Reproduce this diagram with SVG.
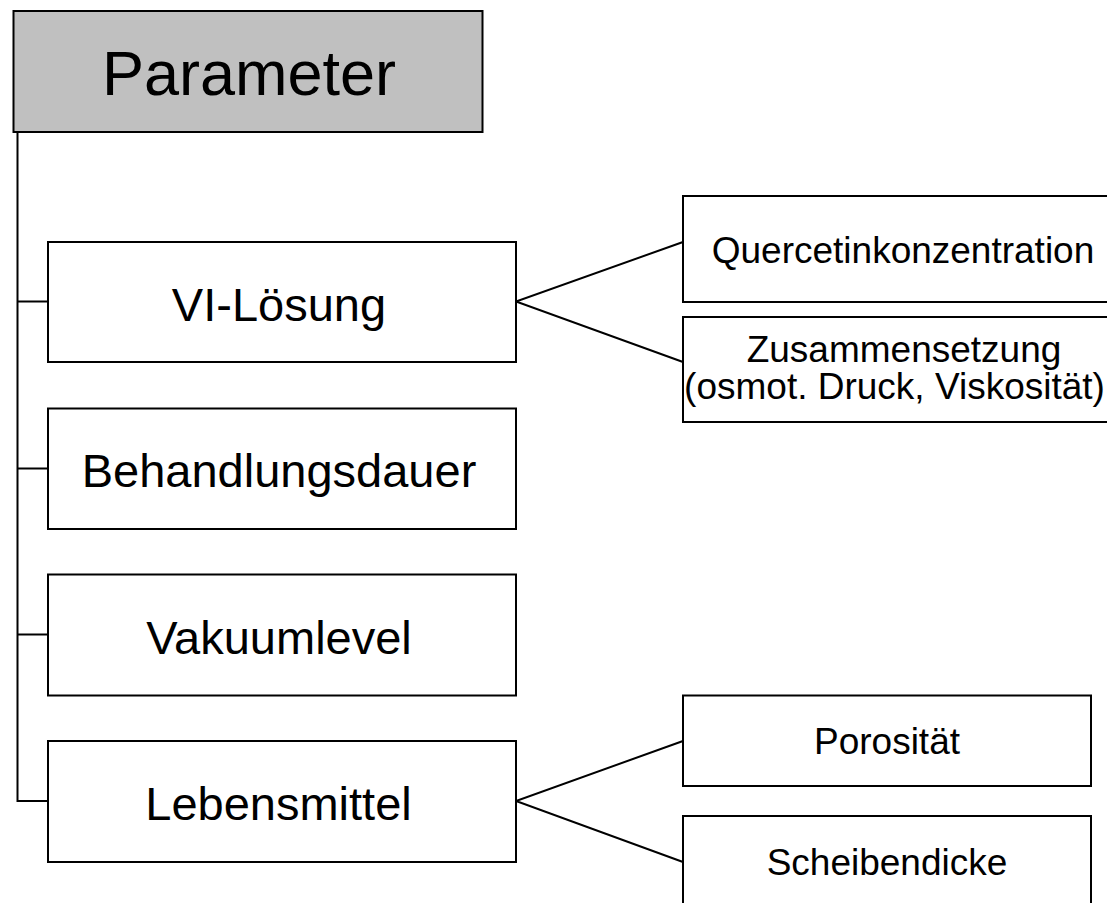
<svg xmlns="http://www.w3.org/2000/svg" width="1107" height="903" viewBox="0 0 1107 903">
<style>
.box{fill:#ffffff;stroke:#000000;stroke-width:2}
.root{fill:#c0c0c0;stroke:#000000;stroke-width:2}
.conn{fill:none;stroke:#000000;stroke-width:2}
text{font-family:"Liberation Sans",Arial,sans-serif;fill:#000000;text-anchor:middle}
.t1{font-size:63px}
.t2{font-size:47px}
.t3{font-size:37px}
</style>
<rect x="0" y="0" width="1107" height="903" fill="#ffffff"/>
<g id="connectors">
<path class="conn" d="M17.5,132 V801 H48"/>
<path class="conn" d="M17.5,301.5 H48"/>
<path class="conn" d="M17.5,468.5 H48"/>
<path class="conn" d="M17.5,634.5 H48"/>
<path class="conn" d="M683,242 L516,301.5 L683,362"/>
<path class="conn" d="M683,741 L516,801 L683,862"/>
</g>
<g id="parameter">
<rect class="root" x="13.5" y="11" width="469" height="121"/>
<text class="t1" x="249" y="95">Parameter</text>
</g>
<g id="vi-loesung">
<rect class="box" x="48" y="242" width="468" height="120"/>
<text class="t2" x="279" y="320.5">VI-Lösung</text>
</g>
<g id="behandlungsdauer">
<rect class="box" x="48" y="408.5" width="468" height="120.5"/>
<text class="t2" x="279" y="487">Behandlungsdauer</text>
</g>
<g id="vakuumlevel">
<rect class="box" x="48" y="574.5" width="468" height="121"/>
<text class="t2" x="279" y="653.5">Vakuumlevel</text>
</g>
<g id="lebensmittel">
<rect class="box" x="48" y="741" width="468" height="121"/>
<text class="t2" x="278.5" y="819.5">Lebensmittel</text>
</g>
<g id="quercetinkonzentration">
<rect class="box" x="683" y="196" width="440" height="106"/>
<text class="t3" x="903" y="262.5">Quercetinkonzentration</text>
</g>
<g id="zusammensetzung">
<rect class="box" x="683" y="317" width="440" height="105"/>
<text class="t3" x="904" y="361.5">Zusammensetzung</text>
<text class="t3" x="894.5" y="398.5">(osmot. Druck, Viskosität)</text>
</g>
<g id="porositaet">
<rect class="box" x="683" y="695.5" width="408" height="90.5"/>
<text class="t3" x="887" y="754">Porosität</text>
</g>
<g id="scheibendicke">
<rect class="box" x="683" y="816" width="408" height="100"/>
<text class="t3" x="887" y="875">Scheibendicke</text>
</g>
</svg>
